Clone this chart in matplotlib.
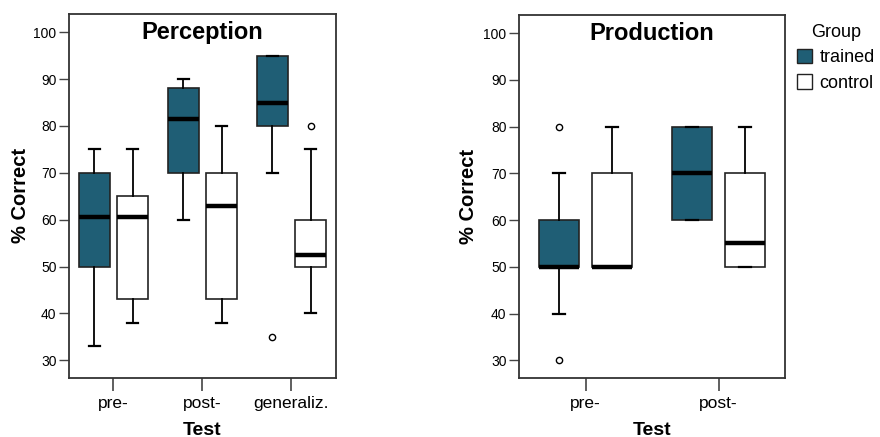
import matplotlib
matplotlib.use("Agg")
import matplotlib.pyplot as plt
from matplotlib.patches import Patch

plt.rcParams['font.family'] = ['Liberation Sans', 'DejaVu Sans']

# Perception: (whislo, q1, med, q3, whishi) per test, trained / control
perc_tests = ["pre-", "post-", "generaliz."]
perc_trained = [(33, 50, 60.5, 70, 75), (60, 70, 81.5, 88, 90), (70, 80, 85, 95, 95)]
perc_control = [(38, 43, 60.5, 65, 75), (38, 43, 63, 70, 80), (40, 50, 52.5, 60, 75)]
perc_trained_out = [[], [], [35]]
perc_control_out = [[], [], [80]]

# Production
prod_tests = ["pre-", "post-"]
prod_trained = [(40, 50, 50, 60, 70), (60, 60, 70, 80, 80)]
prod_control = [(50, 50, 50, 70, 80), (50, 50, 55, 70, 80)]
prod_trained_out = [[80, 30], []]
prod_control_out = [[], []]

groups = ["trained", "control"]
teal = "#1f5e75"
colors = [teal, "white"]


def make_stats(vals, outs):
    out = []
    for (lo, q1, med, q3, hi), fl in zip(vals, outs):
        out.append(dict(whislo=lo, q1=q1, med=med, q3=q3, whishi=hi, fliers=fl))
    return out


def draw_panel(ax, title, tests, trained, control, tr_out, co_out, width, offset, capw, ylab_x):
    x = list(range(1, len(tests) + 1))
    for stats, shift, col in [(make_stats(trained, tr_out), -offset, colors[0]),
                              (make_stats(control, co_out), offset, colors[1])]:
        pos = [p + shift for p in x]
        ax.bxp(stats, positions=pos, widths=width, patch_artist=True,
               capwidths=capw, manage_ticks=False,
               boxprops=dict(facecolor=col, edgecolor="#222222", linewidth=1.2),
               medianprops=dict(color="black", linewidth=3.2, solid_capstyle="butt"),
               whiskerprops=dict(color="black", linewidth=1.3),
               capprops=dict(color="black", linewidth=1.6),
               flierprops=dict(marker="o", markersize=4.5, markerfacecolor="white",
                               markeredgecolor="black", markeredgewidth=1.0))
    ax.set_xlim(0.5, len(tests) + 0.5)
    ax.set_ylim(26.2, 103.9)
    ax.set_xticks(x)
    ax.set_xticklabels(tests, fontsize=12.5)
    ax.set_yticks([30, 40, 50, 60, 70, 80, 90, 100])
    ax.tick_params(axis="y", labelsize=10, length=7, width=1.0, color="#444444", pad=2)
    ax.tick_params(axis="x", length=9, width=1.2, color="#444444", pad=4)
    for s in ax.spines.values():
        s.set_linewidth(1.3)
        s.set_color("#333333")
    ax.text(0.5, 0.95, title, transform=ax.transAxes, ha="center", va="center",
            fontsize=17, fontweight="bold")
    ax.set_ylabel("% Correct", fontsize=14.5, fontweight="bold")
    ax.set_xlabel("Test", fontsize=14, fontweight="bold")
    ax.yaxis.set_label_coords(ylab_x, 0.5)
    ax.xaxis.set_label_coords(0.5, -0.12)


fig = plt.figure(figsize=(8.8, 4.37), dpi=100)
ax1 = fig.add_axes([0.0784, 0.135, 0.3034, 0.833])
ax2 = fig.add_axes([0.5898, 0.135, 0.3023, 0.8307])

draw_panel(ax1, "Perception", perc_tests, perc_trained, perc_control,
           perc_trained_out, perc_control_out, 0.35, 0.215, 0.12, -0.146)
draw_panel(ax2, "Production", prod_tests, prod_trained, prod_control,
           prod_trained_out, prod_control_out, 0.30, 0.20, 0.093, -0.154)

handles = [Patch(facecolor=c, edgecolor="#222222", linewidth=1.0) for c in colors]
leg = fig.legend(handles, groups, title="Group", loc="upper left",
                 bbox_to_anchor=(0.891, 0.975), frameon=False, fontsize=13,
                 title_fontsize=13, handlelength=0.85, handleheight=0.85,
                 handletextpad=0.4, labelspacing=0.45, borderpad=0.2)

fig.savefig("out.png", dpi=100)
